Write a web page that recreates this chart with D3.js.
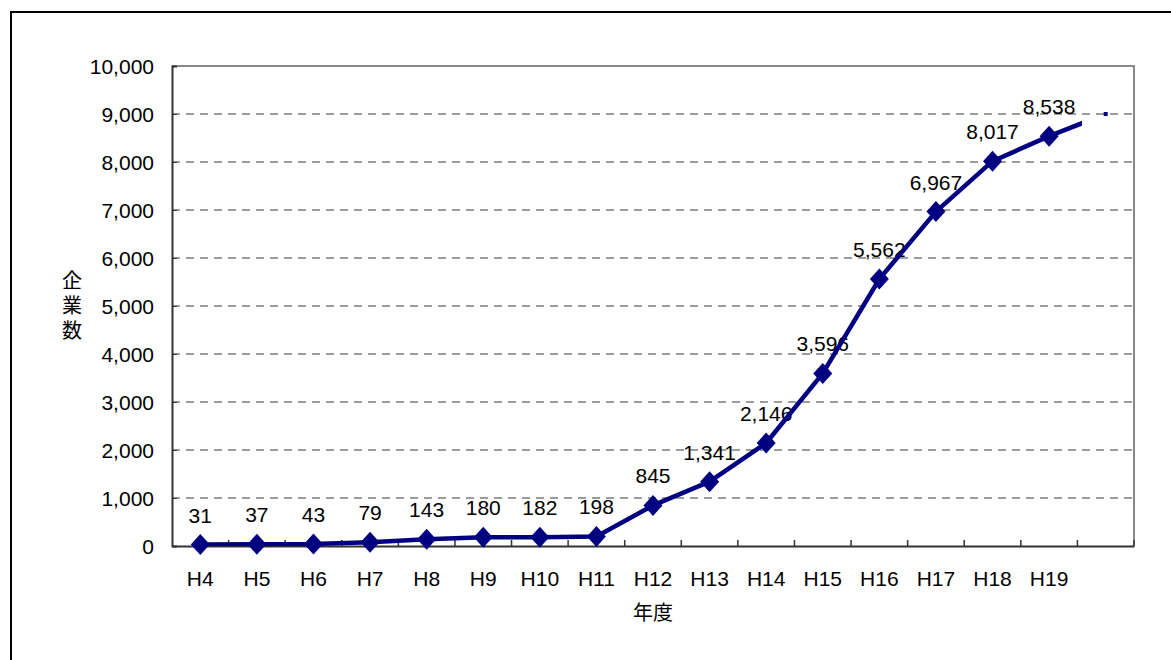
<!DOCTYPE html>
<html>
<head>
<meta charset="utf-8">
<script src="https://cdn.jsdelivr.net/npm/d3@7"></script>
<style>
  body { margin: 0; background: #fff; }
  text { font-family: "Liberation Sans", "Noto Sans CJK JP", sans-serif; fill: #000; }
  .cjk { font-family: "Noto Sans CJK JP", sans-serif; }
</style>
</head>
<body>
<svg id="chart" width="1171" height="660"></svg>
<script>
// data
const years = ["H4", "H5", "H6", "H7", "H8", "H9", "H10", "H11", "H12", "H13", "H14", "H15", "H16", "H17", "H18", "H19", ""];
const companies = [31, 37, 43, 79, 143, 180, 182, 198, 845, 1341, 2146, 3596, 5562, 6967, 8017, 8538, 9000];
const yTicks = [0, 1000, 2000, 3000, 4000, 5000, 6000, 7000, 8000, 9000, 10000];
const yTitle = "企業数";
const xTitle = "年度";

const svg = d3.select("#chart");
const m = {t: 66, l: 172, w: 962, h: 480};

// outer frame (runs off the right and bottom edge)
svg.append("rect").attr("x", 11).attr("y", 12).attr("width", 1200).attr("height", 700)
  .attr("fill", "none").attr("stroke", "#000").attr("stroke-width", 2);

const g = svg.append("g").attr("transform", "translate(" + m.l + "," + m.t + ")");

const x = d3.scaleBand().domain(d3.range(years.length)).range([0, m.w]);
const y = d3.scaleLinear().domain([0, 10000]).range([m.h, 0]);
const cx = i => x(i) + x.bandwidth() / 2;

// dashed gridlines
g.selectAll(".grid").data(yTicks.filter(v => v > 0 && v < 10000)).enter().append("line")
  .attr("x1", 0).attr("x2", m.w)
  .attr("y1", d => y(d)).attr("y2", d => y(d))
  .attr("stroke", "#3a3a3a").attr("stroke-width", 1.2).attr("stroke-dasharray", "8,6");

// top and right border
g.append("path").attr("d", "M0," + y(10000) + "H" + m.w + "V" + m.h)
  .attr("fill", "none").attr("stroke", "#888").attr("stroke-width", 2);

// y axis
const yAxis = g.append("g")
  .call(d3.axisLeft(y).tickValues(yTicks).tickSize(-5).tickPadding(18).tickFormat(d3.format(",")));
yAxis.select(".domain").attr("stroke", "#333").attr("stroke-width", 2);
yAxis.selectAll(".tick line").attr("stroke", "#333");
yAxis.selectAll("text").style("font-size", "21px").attr("dy", "0.36em");

// x axis, ticks between categories pointing up
const xAxis = g.append("g").attr("transform", "translate(0," + m.h + ")")
  .call(d3.axisBottom(x).tickSize(0).tickPadding(25).tickFormat(i => years[i]));
xAxis.select(".domain").attr("stroke", "#333").attr("stroke-width", 2);
xAxis.selectAll("text").style("font-size", "21px");
g.selectAll(".xtick").data(d3.range(1, years.length + 1)).enter().append("line")
  .attr("x1", i => x.step() * i).attr("x2", i => x.step() * i)
  .attr("y1", m.h).attr("y2", m.h - 6)
  .attr("stroke", "#333").attr("stroke-width", 1.5);

// data labels (line is drawn over them)
g.selectAll(".lbl").data(companies.slice(0, 16)).enter().append("text")
  .attr("x", (d, i) => cx(i)).attr("y", d => y(d) - 22)
  .attr("text-anchor", "middle").style("font-size", "21px")
  .text(d => d3.format(",")(d));

// line; the final segment is only partly drawn in the source
const last = companies.length - 1;
svg.append("clipPath").attr("id", "cut").append("rect")
  .attr("x", 0).attr("y", 0).attr("height", m.h)
  .attr("width", cx(last - 1) + x.step() * 0.58);
g.append("path").datum(companies)
  .attr("clip-path", "url(#cut)")
  .attr("fill", "none").attr("stroke", "#000080").attr("stroke-width", 4.5)
  .attr("stroke-linejoin", "round")
  .attr("d", d3.line().x((d, i) => cx(i)).y(d => y(d)));

// diamond markers
g.selectAll(".mk").data(companies.slice(0, 16)).enter().append("path")
  .attr("transform", (d, i) => "translate(" + cx(i) + "," + y(d) + ")")
  .attr("d", "M0,-10.5L9.5,0L0,10.5L-9.5,0Z")
  .attr("fill", "#000080");
g.append("rect")
  .attr("x", cx(last) - 2).attr("y", y(companies[last]) - 2)
  .attr("width", 4).attr("height", 4).attr("fill", "#000080");

// axis titles (y title set vertically, one character per line)
svg.append("text").attr("class", "cjk")
  .attr("x", 72).attr("y", 308)
  .attr("writing-mode", "tb").attr("text-anchor", "middle")
  .style("font-size", "20px").style("letter-spacing", "5px")
  .text(yTitle);
svg.append("text").attr("class", "cjk")
  .attr("x", 653).attr("y", 620).attr("text-anchor", "middle").style("font-size", "20px")
  .text(xTitle);
</script>
</body>
</html>
